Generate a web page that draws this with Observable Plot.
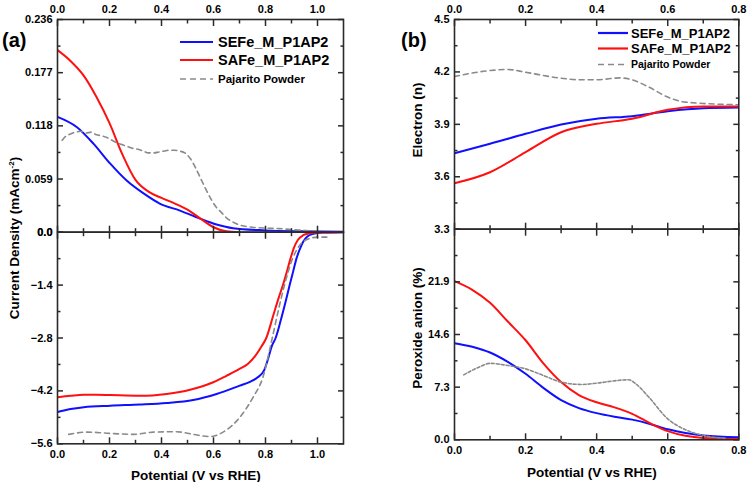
<!DOCTYPE html>
<html><head><meta charset="utf-8">
<script src="https://cdn.jsdelivr.net/npm/d3@7"></script>
<script src="https://cdn.jsdelivr.net/npm/@observablehq/plot@0.6"></script>
<style>
body{margin:0;background:#fff;}
#wrap{position:relative;width:748px;height:482px;overflow:hidden;font-family:Arial,"Liberation Sans",sans-serif;background:#fff;}
#wrap > svg{position:absolute;left:0;top:0;}
.lbl{position:absolute;font-weight:bold;color:#000;white-space:nowrap;line-height:1;}
.rot{transform:translate(-50%,-50%) rotate(-90deg);}
</style></head><body><div id="wrap"></div>
<script>
// ---------- tick values ----------
const xTicksA = [0, 0.2, 0.4, 0.6, 0.8, 1.0];
const xMinorA = [0.1, 0.3, 0.5, 0.7, 0.9];
const xTicksB = [0, 0.2, 0.4, 0.6, 0.8];
const xMinorB = [0.1, 0.3, 0.5, 0.7];
const yTicksRing = [0, 0.059, 0.118, 0.177, 0.236];
const yMinorRing = [0.0295, 0.0885, 0.1475, 0.2065];
const yTicksDisk = [-5.6, -4.2, -2.8, -1.4, 0];
const yMinorDisk = [-4.9, -3.5, -2.1, -0.7];
const yTicksN = [3.3, 3.6, 3.9, 4.2, 4.5];
const yMinorN = [3.45, 3.75, 4.05, 4.35];
const yTicksPer = [0, 7.3, 14.6, 21.9, 29.2];
const yLabelsPer = [0, 7.3, 14.6, 21.9];
const yMinorPer = [3.65, 10.95, 18.25, 25.55];

// ---------- series names ----------
const seriesNames = ["SEFe_M_P1AP2", "SAFe_M_P1AP2", "Pajarito Powder"];

// ---------- (a) ring current (top) ----------
const ringSEFe = [[0,0.128],[0.075,0.1165],[0.139,0.098],[0.203,0.076],[0.267,0.057],[0.331,0.043],[0.395,0.0315],[0.471,0.024],[0.548,0.015],[0.612,0.0085],[0.675,0.0044],[0.8,0.002],[0.93,0.001],[1.1,0.0005]];
const ringSAFe = [[0,0.202],[0.05,0.19],[0.1,0.174],[0.15,0.15],[0.2,0.121],[0.25,0.086],[0.3,0.058],[0.35,0.045],[0.4,0.038],[0.45,0.032],[0.5,0.025],[0.55,0.015],[0.6,0.0055],[0.65,0.001],[0.7,0]];
const ringPaj = [[0.018,0.102],[0.03,0.106],[0.05,0.109],[0.07,0.111],[0.09,0.112],[0.11,0.11],[0.13,0.111],[0.15,0.108],[0.17,0.107],[0.19,0.105],[0.21,0.102],[0.23,0.099],[0.25,0.097],[0.27,0.095],[0.29,0.093],[0.31,0.092],[0.33,0.09],[0.35,0.088],[0.37,0.088],[0.39,0.089],[0.41,0.09],[0.43,0.091],[0.45,0.091],[0.47,0.09],[0.49,0.088],[0.51,0.082],[0.53,0.072],[0.55,0.06],[0.57,0.048],[0.59,0.037],[0.61,0.028],[0.63,0.022],[0.65,0.016],[0.67,0.012],[0.7,0.008],[0.75,0.0055],[0.8,0.0045],[0.85,0.004],[0.9,0.003],[0.95,0.002],[1.0,0.001]];

// ---------- (a) disk current (bottom) ----------
const diskSEFe = [[0,-4.76],[0.05,-4.68],[0.101,-4.63],[0.203,-4.59],[0.318,-4.56],[0.42,-4.52],[0.522,-4.44],[0.612,-4.28],[0.701,-4.06],[0.74,-3.96],[0.77,-3.84],[0.795,-3.65],[0.81,-3.35],[0.825,-3.0],[0.839,-2.8],[0.86,-2.3],[0.877,-1.85],[0.893,-1.4],[0.906,-1.05],[0.919,-0.7],[0.932,-0.45],[0.945,-0.25],[0.96,-0.12],[0.98,-0.05],[1.02,-0.01],[1.1,0]];
const diskSAFe = [[0,-4.37],[0.05,-4.33],[0.101,-4.3],[0.15,-4.3],[0.203,-4.31],[0.318,-4.33],[0.42,-4.28],[0.51,-4.17],[0.599,-3.97],[0.65,-3.8],[0.7,-3.62],[0.733,-3.48],[0.76,-3.28],[0.785,-3.02],[0.803,-2.8],[0.83,-2.2],[0.85,-1.75],[0.867,-1.4],[0.882,-1.05],[0.896,-0.7],[0.91,-0.4],[0.925,-0.2],[0.945,-0.08],[0.97,-0.03],[1.0,-0.01],[1.1,0]];
const diskPaj = [[0.043,-5.35],[0.114,-5.29],[0.191,-5.32],[0.293,-5.35],[0.369,-5.29],[0.458,-5.28],[0.522,-5.35],[0.586,-5.41],[0.637,-5.29],[0.701,-4.9],[0.752,-4.37],[0.79,-3.84],[0.826,-2.8],[0.85,-2.05],[0.873,-1.4],[0.904,-0.7],[0.931,-0.35],[0.969,-0.17],[1.0,-0.13],[1.046,-0.13]];

// ---------- (b) electron number (top) ----------
const nSEFe = [[0,3.735],[0.1,3.789],[0.2,3.846],[0.3,3.899],[0.4,3.932],[0.5,3.947],[0.6,3.975],[0.7,3.992],[0.8,3.996]];
const nSAFe = [[0,3.563],[0.1,3.626],[0.2,3.741],[0.3,3.855],[0.4,3.903],[0.5,3.932],[0.6,3.983],[0.7,4.002],[0.8,4.002]];
const nPaj = [[0,4.174],[0.1,4.208],[0.15,4.214],[0.2,4.198],[0.3,4.164],[0.355,4.155],[0.4,4.155],[0.467,4.166],[0.5,4.155],[0.547,4.113],[0.6,4.056],[0.65,4.027],[0.8,4.012]];

// ---------- (b) peroxide % (bottom) ----------
const perSEFe = [[0,13.4],[0.05,12.9],[0.1,12.1],[0.15,10.8],[0.2,9.15],[0.25,7.2],[0.3,5.5],[0.35,4.4],[0.4,3.7],[0.45,3.2],[0.5,2.8],[0.55,2.2],[0.6,1.45],[0.65,0.95],[0.7,0.6],[0.8,0.36]];
const perSAFe = [[0,22.0],[0.05,20.8],[0.1,19.0],[0.15,16.4],[0.2,13.8],[0.25,10.6],[0.3,8.0],[0.35,6.2],[0.4,5.2],[0.45,4.5],[0.5,3.6],[0.55,2.3],[0.6,1.2],[0.65,0.55],[0.7,0.25],[0.8,0.1]];
const perPaj = [[0.026,9.0],[0.07,10.1],[0.1,10.6],[0.15,10.3],[0.2,9.84],[0.25,8.92],[0.3,8.0],[0.357,7.67],[0.4,7.85],[0.457,8.22],[0.49,8.32],[0.51,7.76],[0.547,5.9],[0.6,2.9],[0.65,1.39],[0.7,0.6],[0.766,0.2]];

const BLUE = "#1010ff", RED = "#ff1010", GRAY = "#8a8a8a", AX = "#2a2a2a";
const W = 748, H = 482;
const f1 = d3.format(".1f");

function panel(cfg) {
  const marks = [];
  for (const s of cfg.series) {
    marks.push(Plot.line(s.data, {x: d => d[0], y: d => d[1], stroke: s.color, strokeWidth: s.width, strokeDasharray: s.dash, curve: "monotone-x", clip: true}));
  }
  const blank = () => "";
  const tk = (ticks, size) => [
    Plot.axisY({ticks, anchor: "left", tickSize: -size, tickFormat: blank, stroke: AX, strokeWidth: 1.5, label: null}),
    Plot.axisY({ticks, anchor: "right", tickSize: -size, tickFormat: blank, stroke: AX, strokeWidth: 1.5, label: null})
  ];
  const tkx = (ticks, size) => [
    Plot.axisX({ticks, anchor: "top", tickSize: -size, tickFormat: blank, stroke: AX, strokeWidth: 1.5, label: null}),
    Plot.axisX({ticks, anchor: "bottom", tickSize: -size, tickFormat: blank, stroke: AX, strokeWidth: 1.5, label: null})
  ];
  marks.push(...tk(cfg.yTicks, 6), ...tk(cfg.yMinor, 3.5), ...tkx(cfg.xTicks, 6), ...tkx(cfg.xMinor, 3.5));
  marks.push(Plot.frame({stroke: AX, strokeWidth: 1.6}));
  marks.push(Plot.axisY({ticks: cfg.yLabels, anchor: "left", tickSize: 0, tickPadding: 5, tickFormat: cfg.yFormat, fontSize: 11, fontWeight: "bold", fill: "#000", label: null}));
  marks.push(Plot.axisX({ticks: cfg.xTicks, anchor: cfg.xSide, tickSize: 0, tickPadding: cfg.xSide === "top" ? 7 : 6, tickFormat: f1, fontSize: 11, fontWeight: "bold", fill: "#000", label: null}));
  return Plot.plot({
    width: W, height: H,
    marginLeft: cfg.m[0], marginRight: W - cfg.m[1], marginTop: cfg.m[2], marginBottom: H - cfg.m[3],
    x: {domain: cfg.xDomain},
    y: {domain: cfg.yDomain},
    style: {background: "transparent", overflow: "visible", fontFamily: "Arial, 'Liberation Sans', sans-serif"},
    marks
  });
}

const wrap = document.getElementById("wrap");
const mk = (a, b, c) => [
  {data: a, color: BLUE, width: 2},
  {data: b, color: RED, width: 2},
  {data: c, color: GRAY, width: 1.6, dash: "5,4"}
];

wrap.appendChild(panel({xDomain: [0, 1.1], yDomain: [0, 0.236], xTicks: xTicksA, xMinor: xMinorA, yTicks: yTicksRing, yMinor: yMinorRing, yLabels: yTicksRing,
  yFormat: d => d === 0 ? "0.0" : d3.format(".3f")(d), xSide: "top", m: [57, 343, 19, 231.7], series: mk(ringSEFe, ringSAFe, ringPaj)}));
wrap.appendChild(panel({xDomain: [0, 1.1], yDomain: [-5.6, 0], xTicks: xTicksA, xMinor: xMinorA, yTicks: yTicksDisk, yMinor: yMinorDisk, yLabels: yTicksDisk,
  yFormat: f1, xSide: "bottom", m: [57, 343, 231.7, 443.3], series: mk(diskSEFe, diskSAFe, diskPaj)}));
wrap.appendChild(panel({xDomain: [0, 0.8], yDomain: [3.3, 4.5], xTicks: xTicksB, xMinor: xMinorB, yTicks: yTicksN, yMinor: yMinorN, yLabels: yTicksN,
  yFormat: f1, xSide: "top", m: [454, 738.3, 19, 228.7], series: mk(nSEFe, nSAFe, nPaj)}));
const perSeries = mk(perSEFe, perSAFe, perPaj); perSeries[2].dash = "3,2";
wrap.appendChild(panel({xDomain: [0, 0.8], yDomain: [0, 29.2], xTicks: xTicksB, xMinor: xMinorB, yTicks: yTicksPer, yMinor: yMinorPer, yLabels: yLabelsPer,
  yFormat: f1, xSide: "bottom", m: [454, 738.3, 228.7, 439.3], series: perSeries}));

// ---------- legends ----------
function legend(x1, x2, tx, ys, sizes) {
  const ns = "http://www.w3.org/2000/svg";
  const svg = document.createElementNS(ns, "svg");
  svg.setAttribute("width", W); svg.setAttribute("height", H);
  const colors = [BLUE, RED, GRAY];
  seriesNames.forEach((name, i) => {
    const l = document.createElementNS(ns, "line");
    l.setAttribute("x1", x1); l.setAttribute("x2", x2); l.setAttribute("y1", ys[i]); l.setAttribute("y2", ys[i]);
    l.setAttribute("stroke", colors[i]); l.setAttribute("stroke-width", i === 2 ? 1.6 : 2.2);
    if (i === 2) l.setAttribute("stroke-dasharray", "6,4");
    svg.appendChild(l);
    const t = document.createElementNS(ns, "text");
    t.setAttribute("x", tx); t.setAttribute("y", ys[i]); t.setAttribute("dy", "0.35em");
    t.setAttribute("font-size", sizes[i]); t.setAttribute("font-weight", "bold");
    t.setAttribute("font-family", "Arial, 'Liberation Sans', sans-serif");
    t.textContent = name;
    svg.appendChild(t);
  });
  wrap.appendChild(svg);
}
legend(180, 213, 218, [42, 60, 79], [14.5, 14.5, 11.5]);
legend(598, 628, 631, [33, 48.5, 64.5], [13, 13, 10.5]);

// ---------- text labels ----------
function label(html, x, y, size, rot) {
  const d = document.createElement("div");
  d.className = "lbl" + (rot ? " rot" : "");
  d.innerHTML = html;
  d.style.fontSize = size + "px";
  d.style.left = x + "px"; d.style.top = y + "px";
  wrap.appendChild(d);
}
label("(a)", 2, 30, 20, false);
label("(b)", 401, 30, 20, false);
label("Current Density (mAcm<sup style='font-size:8px;vertical-align:5px'>-2</sup>)", 15, 238, 13.5, true);
label("Electron (n)", 418, 120, 13.5, true);
label("Peroxide anion (%)", 418, 328, 13.5, true);
label("Potential (V vs RHE)", 131, 469, 13.5, false);
label("Potential (V vs RHE)", 527, 466, 13.5, false);
</script></body></html>
